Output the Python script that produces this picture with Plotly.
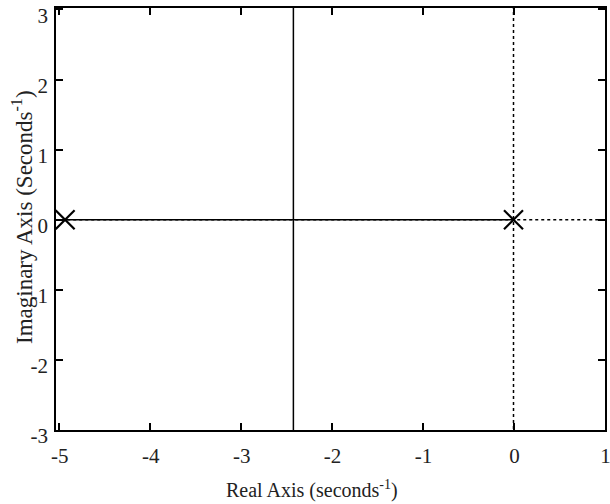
import plotly.graph_objects as go

# Data (root locus)
pole_re = [-4.93, 0.0]
pole_im = [0.0, 0.0]
locus_re = [-4.93, 0.0]
locus_im = [0.0, 0.0]
branch_re = [-2.42, -2.42]
branch_im = [-3.5, 3.5]
axis_x_re = [0.0, 0.0]
axis_x_im = [-3.5, 3.5]
axis_y_re = [-5.5, 1.5]
axis_y_im = [0.0, 0.0]
x_ticks = [-5, -4, -3, -2, -1, 0, 1]
x_tick_text = ["-5", "-4", "-3", "-2", "-1", "0", "1"]
y_ticks = [-3, -2, -1, 0, 1, 2, 3]
y_tick_text = ["-3", "-2", "-1", "0", "1", "2", "3"]

FONT = "Liberation Serif, Times New Roman, serif"

fig = go.Figure()
fig.add_trace(go.Scatter(x=axis_x_re, y=axis_x_im, mode="lines",
                         line=dict(color="black", width=1.5, dash="dot"), hoverinfo="skip"))
fig.add_trace(go.Scatter(x=axis_y_re, y=axis_y_im, mode="lines",
                         line=dict(color="black", width=1.5, dash="dot"), hoverinfo="skip"))
fig.add_trace(go.Scatter(x=locus_re, y=locus_im, mode="lines",
                         line=dict(color="black", width=1.5)))
fig.add_trace(go.Scatter(x=branch_re, y=branch_im, mode="lines",
                         line=dict(color="black", width=1.5)))
fig.add_trace(go.Scatter(x=pole_re, y=pole_im, mode="markers",
                         marker=dict(symbol="x-thin", size=19, color="black",
                                     line=dict(color="black", width=2.2))))

fig.update_layout(
    width=610, height=504,
    margin=dict(l=56, r=5, t=8, b=74),
    paper_bgcolor="white", plot_bgcolor="white",
    showlegend=False,
    font=dict(family=FONT, size=21, color="#222"),
    xaxis=dict(range=[-5.03, 1.006], tickvals=x_ticks, ticktext=x_tick_text,
               automargin=False, ticklabeloverflow="allow",
               showgrid=False, zeroline=False, showline=True, linecolor="black",
               linewidth=1.5, mirror="ticks", ticks="inside", ticklen=7,
               tickwidth=1.5, tickcolor="black", ticklabelstandoff=6, ticklabelshift=1,
               tickfont=dict(family=FONT, size=21, color="#222")),
    yaxis=dict(range=[-3.0, 3.02], tickvals=y_ticks, ticktext=y_tick_text,
               automargin=False, ticklabeloverflow="allow",
               showgrid=False, zeroline=False, showline=True, linecolor="black",
               linewidth=1.5, mirror="ticks", ticks="inside", ticklen=7,
               tickwidth=1.5, tickcolor="black", ticklabelstandoff=2, ticklabelshift=6,
               tickfont=dict(family=FONT, size=21, color="#222")),
    annotations=[
        dict(text="Real Axis (seconds<sup>-1</sup>)", xref="paper", yref="paper",
             x=(312 - 56) / 549, y=-(489 - 430) / 422, xanchor="center", yanchor="middle",
             showarrow=False, font=dict(family=FONT, size=20, color="#222")),
        dict(text="Imaginary Axis (Seconds<sup>-1</sup>)", xref="paper", yref="paper",
             x=-(56 - 23) / 549, y=(430 - 217) / 422, xanchor="center", yanchor="middle",
             textangle=-90, showarrow=False, font=dict(family=FONT, size=23, color="#222")),
    ],
)

fig.write_html("out.html", config={"displayModeBar": False},
               post_script="document.body.style.margin='0';document.body.style.padding='0';")
